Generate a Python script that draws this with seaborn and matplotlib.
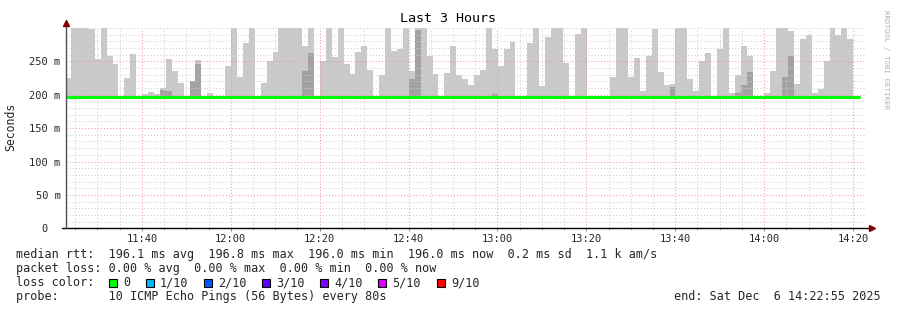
import numpy as np
import pandas as pd
import matplotlib
matplotlib.use("Agg")
import matplotlib.pyplot as plt
import seaborn as sns
from matplotlib.patches import Rectangle
from matplotlib.ticker import MultipleLocator, FixedLocator, FuncFormatter

# ---------------- data ----------------
title = "Last 3 Hours"
y_label = "Seconds"
first_step = "11:22:43"      # start of first (partly visible) 80 s step
step_seconds = 80
window_end = "14:22:55"
window_hours = 3

# highest ping per step (ms); None = no smoke above the median
smoke_max = [
    225, 302, 302, 302, 298, 253, 302, 258, 246, None,
    225, 261, None, 201, 204, 201, 210, 253, 236, 218,
    None, 220, 252, None, 202, None, None, 243, 302, 226,
    277, 302, None, 217, 250, 264, 302, 302, 302, 302,
    273, 302, None, 250, 302, 257, 302, 246, 231, 264,
    273, 237, None, 230, 302, 265, 268, 302, 236, 302,
    302, 258, 231, None, 233, 273, 230, 223, 214, 230,
    237, 302, 268, 243, 268, 279, None, None, 277, 302,
    213, 287, 302, 302, 248, None, 291, 302, None, None,
    None, None, 226, 302, 302, 227, 255, 206, 258, 299,
    234, 214, 216, 302, 302, 223, 205, 250, 262, None,
    268, 302, 202, 230, 273, 258, None, None, 202, 236,
    302, 302, 296, 216, 284, 290, 202, 208, 250, 302,
    290, 302, 283, None,
]
# second highest ping per step (ms), darker smoke
smoke_mid = [
    None, None, None, None, None, None, None, None, None, None,
    None, None, None, None, None, None, 207, 205, None, None,
    None, 220, 246, None, None, None, None, None, None, None,
    None, None, None, None, None, None, None, None, None, None,
    236, 262, None, None, None, None, None, None, None, None,
    None, None, None, None, None, None, None, None, 224, 297,
    None, None, None, None, None, None, None, None, None, None,
    None, None, 201, None, None, None, None, None, None, None,
    None, None, None, None, None, None, None, None, None, None,
    None, None, None, None, None, None, None, None, None, None,
    None, None, 211, None, None, None, None, None, None, None,
    None, None, None, 202, 215, 234, None, None, None, None,
    None, 227, 258, None, None, None, None, None, None, None,
    None, None, None, None,
]
# median rtt per step (ms)
median_rtt = [
    196.0, 196.1, 196.1, 196.2, 196.1, 196.0, 196.1, 196.0, 196.0, 196.0,
    196.0, 196.1, 196.0, 196.0, 196.0, 196.0, 196.1, 196.1, 196.0, 196.0,
    196.0, 196.1, 196.2, 196.0, 196.0, 196.0, 196.0, 196.0, 196.1, 196.0,
    196.1, 196.1, 196.0, 196.0, 196.1, 196.1, 196.1, 196.1, 196.1, 196.1,
    196.2, 196.3, 196.0, 196.1, 196.1, 196.0, 196.1, 196.0, 196.0, 196.0,
    196.1, 196.0, 196.0, 196.0, 196.1, 196.0, 196.1, 196.1, 196.5, 196.8,
    196.2, 196.1, 196.0, 196.0, 196.0, 196.1, 196.0, 196.0, 196.0, 196.0,
    196.0, 196.1, 196.0, 196.0, 196.1, 196.1, 196.0, 196.0, 196.0, 196.1,
    196.0, 196.1, 196.1, 196.1, 196.0, 196.0, 196.1, 196.1, 196.0, 196.0,
    196.0, 196.0, 196.0, 196.1, 196.1, 196.0, 196.0, 196.0, 196.0, 196.1,
    196.0, 196.0, 196.1, 196.1, 196.1, 196.0, 196.0, 196.0, 196.1, 196.0,
    196.0, 196.1, 196.0, 196.0, 196.1, 196.1, 196.0, 196.0, 196.0, 196.0,
    196.1, 196.1, 196.2, 196.0, 196.1, 196.1, 196.0, 196.0, 196.0, 196.1,
    196.1, 196.1, 196.0, 196.0,
]

legend_lines = [
    "median rtt:  196.1 ms avg  196.8 ms max  196.0 ms min  196.0 ms now  0.2 ms sd  1.1 k am/s",
    "packet loss: 0.00 % avg  0.00 % max  0.00 % min  0.00 % now",
]
loss_title = "loss color:"
loss_labels = ["0", "1/10", "2/10", "3/10", "4/10", "5/10", "9/10"]
loss_colors = ["#00ff00", "#00b8ff", "#0059ff", "#5e00ff", "#7e00ff", "#dd00ff", "#ff0000"]
probe_text = "probe:       10 ICMP Echo Pings (56 Bytes) every 80s"
end_text = "end: Sat Dec  6 14:22:55 2025"
credit = "RRDTOOL / TOBI OETIKER"

# ---------------- helpers ----------------
def hm_to_min(s):
    parts = [int(p) for p in s.split(":")]
    return parts[0] * 60 + parts[1] + (parts[2] / 60 if len(parts) > 2 else 0)

W, H = 897, 310
def fx(px):
    return px / W
def fy(py):
    return 1 - py / H

step_min = step_seconds / 60
t_start = hm_to_min(first_step) + step_min * np.arange(len(smoke_max))
x_end = hm_to_min(window_end)
x_begin = x_end - window_hours * 60

df = pd.DataFrame({"t": t_start, "median": median_rtt,
                   "max": pd.to_numeric(pd.Series(smoke_max), errors="coerce"),
                   "mid": pd.to_numeric(pd.Series(smoke_mid), errors="coerce")})

y_top = 300

sns.set_style("white")
plt.rcParams["font.family"] = ["DejaVu Sans Mono", "DejaVu Sans"]

fig = plt.figure(figsize=(W / 100, H / 100), dpi=100)
fig.patch.set_facecolor("white")
ax_left, ax_right, ax_top, ax_bot = 66, 866, 27.9, 228.3
ax = fig.add_axes([fx(ax_left), fy(ax_bot), (ax_right - ax_left) / W, (ax_bot - ax_top) / H])
ax.set_facecolor("white")

# smoke
light = df.dropna(subset=["max"])
ax.bar(light["t"], light["max"].clip(upper=y_top + 5) - light["median"], bottom=light["median"],
       width=step_min, align="edge", color="#c9c9c9", linewidth=0, antialiased=False, zorder=1)
dark = df.dropna(subset=["mid"])
ax.bar(dark["t"], dark["mid"].clip(upper=y_top + 5) - dark["median"], bottom=dark["median"],
       width=step_min, align="edge", color="#a2a2a2", linewidth=0, antialiased=False, zorder=1.1)

# median line
line_df = pd.DataFrame({"t": list(df["t"]) + [df["t"].iloc[-1] + step_min],
                        "median": list(df["median"]) + [df["median"].iloc[-1]]})
sns.lineplot(data=line_df, x="t", y="median", ax=ax, color="#00ff00", linewidth=2.2,
             drawstyle="steps-post", estimator=None, sort=False, zorder=3)

ax.set_xlim(x_begin, x_end)
ax.set_ylim(0, y_top)
ax.set_xlabel("")
ax.set_ylabel("")

# grid
ax.xaxis.set_major_locator(MultipleLocator(20))
ax.xaxis.set_minor_locator(MultipleLocator(5))
ax.yaxis.set_major_locator(FixedLocator([0, 50, 100, 150, 200, 250]))
ax.yaxis.set_minor_locator(FixedLocator(list(range(10, 301, 10))))
ax.set_axisbelow(False)
ax.grid(which="minor", color="#cfcfcf", linestyle=(0, (1, 2)), linewidth=0.75)
ax.grid(which="major", color="#f09a9a", linestyle=(0, (1, 2)), linewidth=0.75)

ax.xaxis.set_major_formatter(FuncFormatter(lambda v, p: f"{int(v // 60):02d}:{int(round(v % 60)):02d}"))
ax.yaxis.set_major_formatter(FuncFormatter(lambda v, p: "0  " if v == 0 else f"{int(v)} m"))
ax.tick_params(axis="x", which="major", length=2.5, width=0.7, color="#888888",
               direction="out", pad=1.5, labelsize=7.5, bottom=True)
ax.tick_params(axis="x", which="minor", length=1.5, width=0.7, color="#aaaaaa",
               direction="out", bottom=True)
ax.tick_params(axis="y", which="both", length=0, pad=3.8, labelsize=7.5)

for s in ["top", "right", "bottom", "left"]:
    ax.spines[s].set_visible(False)

# axis lines with arrows
ax.plot([-4 / 800, 1 + 4 / 800], [0, 0], transform=ax.transAxes, clip_on=False,
        color="black", linewidth=1.0, zorder=5)
ax.plot([0, 0], [0, 1 + 2 / 200], transform=ax.transAxes, clip_on=False,
        color="#505050", linewidth=1.0, zorder=5)
ax.plot([1 + 6 / 800], [0], marker=">", markersize=4, color="#800000",
        transform=ax.transAxes, clip_on=False, zorder=6)
ax.plot([0], [1 + 4.5 / 200], marker="^", markersize=4, color="#800000",
        transform=ax.transAxes, clip_on=False, zorder=6)

# texts
fig.text(fx(448), fy(19), title, ha="center", va="center", fontsize=9.6, color="black")
fig.text(fx(11), fy(127.4), y_label, ha="center", va="center", rotation=90, fontsize=8.3)
fig.text(fx(886), fy(59.5), credit, ha="center", va="center", rotation=270,
         fontsize=5.3, color="#b0b0b0")

fs = 8.45
fig.text(fx(16), fy(258.3), legend_lines[0], ha="left", va="baseline", fontsize=fs)
fig.text(fx(16), fy(272.3), legend_lines[1], ha="left", va="baseline", fontsize=fs)
fig.text(fx(16), fy(286.3), loss_title, ha="left", va="baseline", fontsize=fs)
label_x = [123, 160, 218.5, 276.3, 334.7, 392.4, 450.8]
for lx, lab, col in zip(label_x, loss_labels, loss_colors):
    fig.patches.append(Rectangle((fx(lx - 14.3), fy(287)), 8 / W, 8 / H, transform=fig.transFigure,
                                 facecolor=col, edgecolor="black", linewidth=0.8))
    fig.text(fx(lx), fy(286.3), lab, ha="left", va="baseline", fontsize=fs)
fig.text(fx(16), fy(300.2), probe_text, ha="left", va="baseline", fontsize=fs)
fig.text(fx(881), fy(300.2), end_text, ha="right", va="baseline", fontsize=fs)

fig.savefig("out.png", dpi=100, facecolor="white")
